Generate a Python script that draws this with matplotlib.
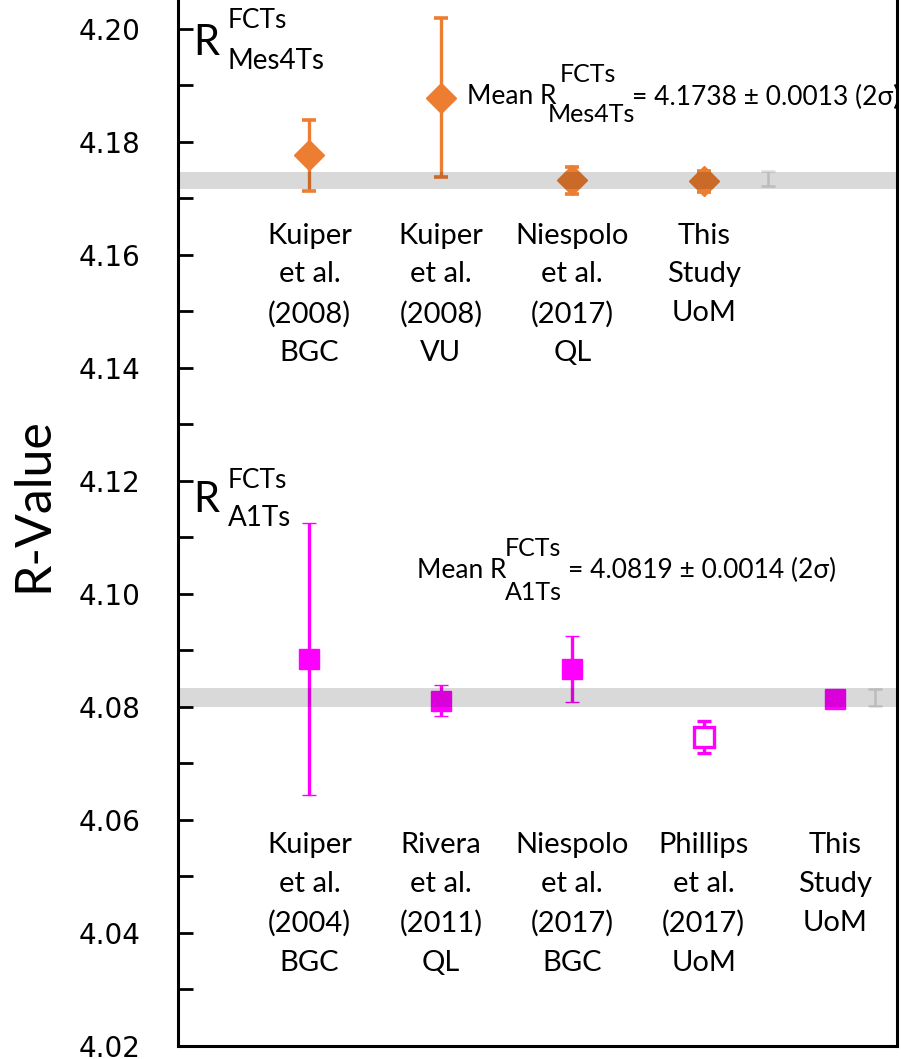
import matplotlib
matplotlib.use("Agg")
import matplotlib.pyplot as plt
from matplotlib.ticker import MultipleLocator, FormatStrFormatter

# R(FCTs/Mes4Ts) determinations
mes_x = [1, 2, 3, 4]
mes_val = [4.1776, 4.1878, 4.1732, 4.1730]
mes_err = [0.0063, 0.0141, 0.0024, 0.0019]
mes_labels = ["Kuiper\net al.\n(2008)\nBGC", "Kuiper\net al.\n(2008)\nVU",
              "Niespolo\net al.\n(2017)\nQL", "This\nStudy\nUoM"]
mes_mean, mes_mean_err = 4.1731, 0.0015
mes_ref_x, mes_ref_val, mes_ref_err = 4.49, 4.1735, 0.0014

# R(FCTs/A1Ts) determinations
a1_x = [1, 2, 3, 4, 5]
a1_val = [4.0885, 4.0811, 4.0867, 4.0747, 4.0814]
a1_err = [0.0240, 0.0027, 0.0059, 0.0028, 0.0008]
a1_open = [False, False, False, True, False]
a1_labels = ["Kuiper\net al.\n(2004)\nBGC", "Rivera\net al.\n(2011)\nQL",
             "Niespolo\net al.\n(2017)\nBGC", "Phillips\net al.\n(2017)\nUoM",
             "This\nStudy\nUoM"]
a1_mean, a1_mean_err = 4.0817, 0.0017
a1_ref_x, a1_ref_val, a1_ref_err = 5.30, 4.0817, 0.0015

orange = "#ED7D31"
magenta = "#FF00FF"
txt_font = ["Lato", "DejaVu Sans"]

fig = plt.figure(figsize=(9.01, 10.59), dpi=100)
ax = fig.add_axes([178 / 901, 13 / 1059, (897 - 178) / 901, (1059 - 13) / 1059])

# data points
for x, v, e in zip(mes_x, mes_val, mes_err):
    ax.errorbar(x, v, yerr=e, fmt="D", color=orange, ms=15, mec=orange, mfc=orange,
                elinewidth=2.4, capsize=5, capthick=2.6, zorder=3)
for x, v, e, op in zip(a1_x, a1_val, a1_err, a1_open):
    ax.errorbar(x, v, yerr=e, fmt="s", color=magenta, ms=15, mec=magenta,
                mfc="white" if op else magenta, mew=2.4 if op else 1,
                elinewidth=2.4, capsize=5, capthick=2.6, zorder=3)

# weighted-mean bands and reference bars
ax.errorbar(mes_ref_x, mes_ref_val, yerr=mes_ref_err, fmt="none", ecolor="#DDDDDD",
            elinewidth=1.8, capsize=5, capthick=1.8, zorder=2)
ax.errorbar(a1_ref_x, a1_ref_val, yerr=a1_ref_err, fmt="none", ecolor="#DDDDDD",
            elinewidth=1.8, capsize=5, capthick=1.8, zorder=2)
ax.axhspan(mes_mean - mes_mean_err, mes_mean + mes_mean_err, color="black", alpha=0.15,
           lw=0, zorder=4)
ax.axhspan(a1_mean - a1_mean_err, a1_mean + a1_mean_err, color="black", alpha=0.15,
           lw=0, zorder=4)

# sample labels
for x, lab in zip(mes_x, mes_labels):
    ax.text(x, 4.1657, lab, ha="center", va="top", fontsize=21, family=txt_font,
            linespacing=1.60)
for x, lab in zip(a1_x, a1_labels):
    ax.text(x, 4.0578, lab, ha="center", va="top", fontsize=21, family=txt_font,
            linespacing=1.60)

ax.set_xlim(0, 5.47)
ax.set_ylim(4.02, 4.2051)
ax.set_xticks([])
ax.yaxis.set_major_locator(MultipleLocator(0.02))
ax.yaxis.set_minor_locator(MultipleLocator(0.01))
ax.yaxis.set_major_formatter(FormatStrFormatter("%.2f"))
ax.tick_params(axis="y", which="both", direction="in", length=11, width=2, pad=27,
               labelsize=20)
ax.spines["top"].set_visible(False)
for s in ["left", "bottom", "right"]:
    ax.spines[s].set_linewidth(2.2)

fig.text(33 / 901, 1 - 505 / 1059, "R-Value", rotation=90, ha="center", va="center",
         fontsize=36, family=["Liberation Sans Narrow", "Lato", "DejaVu Sans"])


def ftext(px, py, s, size, **kw):
    fig.text(px / 901, 1 - py / 1059, s, fontsize=size, family=txt_font,
             va="center", **kw)


# panel headers
ftext(193, 43, "R", 30)
ftext(228, 21, "FCTs", 19)
ftext(228, 61, "Mes4Ts", 20)
ftext(193, 500, "R", 30)
ftext(228, 480, "FCTs", 19)
ftext(228, 518, "A1Ts", 20)

# mean annotations
ftext(467, 97, "Mean R", 19)
ftext(560, 74, "FCTs", 18)
ftext(548, 114, "Mes4Ts", 18)
ftext(632, 97, "= 4.1738 ± 0.0013 (2σ)", 19)
ftext(417, 570, "Mean R", 19)
ftext(505, 548, "FCTs", 18)
ftext(505, 592, "A1Ts", 18)
ftext(568, 570, "= 4.0819 ± 0.0014 (2σ)", 19)

fig.savefig("out.png", dpi=100)
